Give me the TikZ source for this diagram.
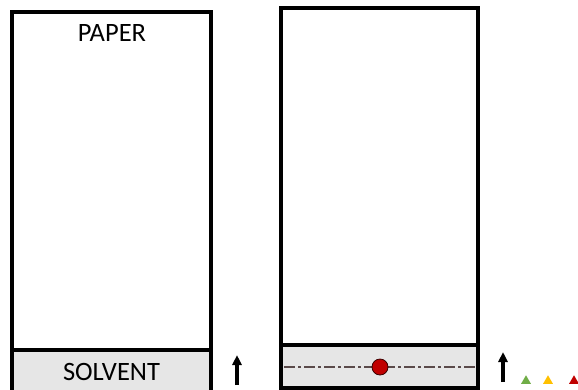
\documentclass[tikz,border=0pt]{standalone}
\usepackage{fontspec}
\setmainfont{Carlito}
\usetikzlibrary{arrows.meta,shapes.geometric}
\definecolor{solv}{HTML}{E6E6E6}
\definecolor{spotred}{HTML}{C00000}
\definecolor{tgreen}{HTML}{70AD47}
\definecolor{tyellow}{HTML}{FFC000}
\definecolor{dashcol}{HTML}{5A4A4A}
\tikzset{
  frame/.style={draw=black, line width=4pt},
  solvent/.style={fill=solv},
  label/.style={font=\fontsize{26.5}{26.5}\selectfont, inner sep=0pt},
  up/.style={-{Triangle[length=10pt,width=9pt]}, line width=3.2pt},
  front/.style={dashcol, line width=1.2pt, dash pattern=on 11pt off 3pt on 3pt off 3pt},
  tri/.style={regular polygon, regular polygon sides=3, inner sep=0pt, minimum size=11.5pt},
}
\begin{document}
\begin{tikzpicture}[x=1pt,y=-1pt]
\useasboundingbox (0,0) rectangle (578,389);
\clip (0,0) rectangle (578,389);
% left: paper in solvent
\fill[solvent] (12,350) rectangle (211,395);
\draw[frame] (12,12) rectangle (211,395);
\draw[frame] (12,350) -- (211,350);
\node[label] (paper) at (112,33) {PAPER};
\node[label] (solventlbl) at (111.5,372) {SOLVENT};
\coordinate (la0) at (237,385);
\coordinate (la1) at (237,355);
\draw[up] (la0) -- (la1);
% right: spotted paper
\fill[solvent] (281,345) rectangle (478,388);
\draw[frame] (281,8) rectangle (478,388);
\draw[frame] (281,345) -- (478,345);
\coordinate (fl) at (284,367);
\coordinate (fr) at (476,367);
\draw[front] (fl) -- (fr);
\node[circle, fill=spotred, draw=black!70!spotred, line width=0.8pt, minimum size=16pt, inner sep=0pt] (spot) at (380,367) {};
\coordinate (ra0) at (503,382);
\coordinate (ra1) at (503,352);
\draw[up] (ra0) -- (ra1);
\node[tri, fill=tgreen] (tg) at (526,381) {};
\node[tri, fill=tyellow] (ty) at (548,381) {};
\node[tri, fill=spotred] (tr) at (574,381) {};
\end{tikzpicture}
\end{document}
